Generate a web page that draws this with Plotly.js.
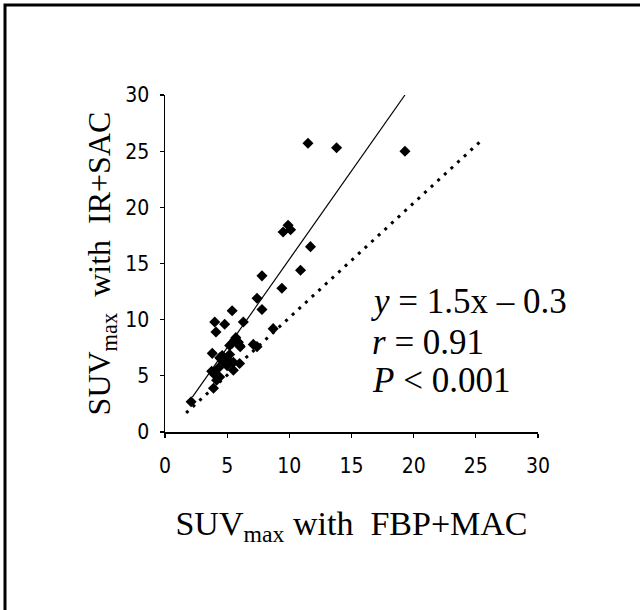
<!DOCTYPE html>
<html>
<head>
<meta charset="utf-8">
<script src="https://cdn.plot.ly/plotly-3.0.1.min.js"></script>
<style>
  html, body { margin: 0; padding: 0; background: #fff; }
  #chart { width: 640px; height: 610px; }
</style>
</head>
<body>
<div id="chart"></div>
<script>
// Scatter data: SUVmax with FBP+MAC (x) vs SUVmax with IR+SAC (y)
const suvFbpMac = [11.5, 13.8, 19.3, 9.5, 9.9, 10.1, 11.7, 10.9, 7.8, 9.4,
                   7.4, 7.8, 5.4, 4.0, 4.8, 6.3, 4.1, 8.7, 7.1, 7.4,
                   5.7, 5.9, 5.4, 5.2, 6.0, 5.6, 3.8, 4.4, 4.7, 5.0,
                   5.5, 5.5, 6.0, 4.6, 3.75, 4.0, 4.15, 3.9, 4.4, 2.1,
                   5.0, 4.3, 5.2, 6.05];
const suvIrSac  = [25.7, 25.3, 25.0, 17.8, 18.4, 18.0, 16.5, 14.4, 13.9, 12.8,
                   11.9, 10.9, 10.8, 9.8, 9.6, 9.8, 8.9, 9.2, 7.8, 7.6,
                   8.4, 8.0, 7.9, 7.7, 7.7, 8.2, 7.0, 6.6, 6.2, 5.9,
                   6.2, 5.5, 6.1, 6.8, 5.4, 5.1, 4.6, 3.9, 4.9, 2.7,
                   6.5, 5.7, 6.9, 7.6];

// Regression line (solid) and identity line (dotted) end points
const fitLineX = [2.2, 19.3];
const fitLineY = [3.1, 30.0];
const identityX = [1.7, 25.3];
const identityY = [1.7, 25.8];

// Axis ticks
const tickVals = [0, 5, 10, 15, 20, 25, 30];
const tickText = ['0', '5', '10', '15', '20', '25', '30'];

// Statistics text
const statLines = ['<i>y</i> = 1.5x – 0.3', '<i>r</i> = 0.91', '<i>P</i> &lt; 0.001'];
const statX = [16.4, 16.5, 16.5];
const statY = [11.6, 8.0, 4.6];

const serif = 'Liberation Serif, Times New Roman, serif';
const tickFont = { family: 'Liberation Sans Narrow, Arial Narrow, DejaVu Sans Condensed, sans-serif', size: 21, color: '#000' };

const traces = [
  {
    x: identityX, y: identityY, mode: 'lines', type: 'scatter',
    line: { color: '#000', width: 3, dash: '3px,6px' },
    hoverinfo: 'skip', showlegend: false
  },
  {
    x: fitLineX, y: fitLineY, mode: 'lines', type: 'scatter',
    line: { color: '#000', width: 1.2 },
    hoverinfo: 'skip', showlegend: false
  },
  {
    x: suvFbpMac, y: suvIrSac, mode: 'markers', type: 'scatter',
    marker: { symbol: 'diamond', size: 8.5, color: '#000' },
    showlegend: false
  }
];

const annotations = statLines.map((t, i) => ({
  x: statX[i], y: statY[i], xref: 'x', yref: 'y', text: t,
  showarrow: false, xanchor: 'left', yanchor: 'middle',
  font: { family: serif, size: 35, color: '#000' }
}));

const layout = {
  width: 640, height: 610,
  margin: { l: 165, r: 102, t: 95, b: 178 },
  paper_bgcolor: '#fff', plot_bgcolor: '#fff',
  showlegend: false,
  xaxis: {
    range: [0, 30], tickvals: tickVals, ticktext: tickText,
    showgrid: false, zeroline: false, showline: true,
    linecolor: '#000', linewidth: 1.5, ticks: 'outside', ticklen: 4,
    tickcolor: '#000', tickwidth: 1.2, tickfont: tickFont,
    ticklabelstandoff: 10,
    title: { text: 'SUV<sub>max</sub> with  FBP+MAC', font: { family: serif, size: 34, color: '#000' }, standoff: 34 }
  },
  yaxis: {
    range: [0, 30], tickvals: tickVals, ticktext: tickText,
    showgrid: false, zeroline: false, showline: true,
    linecolor: '#000', linewidth: 1.5, ticks: 'outside', ticklen: 4,
    tickcolor: '#000', tickwidth: 1.2, tickfont: tickFont,
    ticklabelstandoff: 6,
    title: { text: 'SUV<sub>max</sub>  with  IR+SAC', font: { family: serif, size: 32, color: '#000' }, standoff: 5 }
  },
  annotations: annotations,
  shapes: [
    { type: 'rect', xref: 'paper', yref: 'paper',
      x0: -160/373, x1: 1.5, y0: -1.0, y1: 1 + 90/337,
      line: { color: '#000', width: 3 }, fillcolor: 'rgba(0,0,0,0)' }
  ]
};

Plotly.newPlot('chart', traces, layout, { staticPlot: true, displayModeBar: false });
</script>
</body>
</html>
